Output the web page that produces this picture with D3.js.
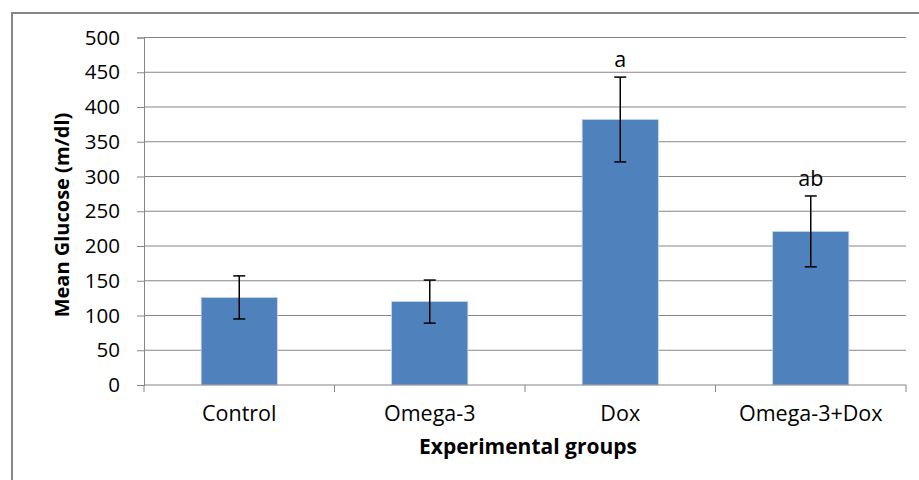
<!DOCTYPE html>
<html>
<head>
<meta charset="utf-8">
<script src="https://cdn.jsdelivr.net/npm/d3@7"></script>
<style>
  body { margin: 0; background: #fff; }
  svg text { font-family: "Open Sans", sans-serif; fill: #000; }
</style>
</head>
<body>
<svg width="919" height="480"></svg>
<script>
// chart data
var groups = ["Control", "Omega-3", "Dox", "Omega-3+Dox"];
var means = [126, 120, 382, 221];
var errs = [31, 31, 61, 51];
var marks = ["", "", "a", "ab"];
var yTicks = [0, 50, 100, 150, 200, 250, 300, 350, 400, 450, 500];

(function () {

var svg = d3.select("svg");

// outer frame
svg.append("rect")
  .attr("x", 12).attr("y", 13)
  .attr("width", 930).attr("height", 500)
  .style("fill", "none").style("stroke", "#868686").style("stroke-width", 2);

var left = 144, right = 906, plotTop = 37.5, bottom = 385;

var x = d3.scaleBand().domain(groups).range([left, right]).padding(0);
var y = d3.scaleLinear().domain([0, 500]).range([bottom, plotTop]);

// gridlines
svg.append("g").selectAll("line")
  .data(yTicks.filter(function(d) { return d > 0; }))
  .enter().append("line")
  .attr("x1", left).attr("x2", right)
  .attr("y1", function(d) { return y(d); })
  .attr("y2", function(d) { return y(d); })
  .style("stroke", "#868686").style("stroke-width", 1);

// y axis
var yAxis = d3.axisLeft(y).tickValues(yTicks).tickSize(7).tickPadding(17);
var gy = svg.append("g").attr("transform", "translate(" + left + ",0)").call(yAxis);
gy.select(".domain").attr("stroke", "#868686");
gy.selectAll(".tick line").attr("stroke", "#868686");
gy.selectAll(".tick text").style("font-size", "20.5px").attr("fill", "#000")
  .style("font-family", "'Open Sans', sans-serif");

// bars
var barW = x.bandwidth() * 0.4;
svg.append("g").selectAll("rect")
  .data(groups)
  .enter().append("rect")
  .attr("x", function(d) { return x(d) + (x.bandwidth() - barW) / 2; })
  .attr("y", function(d, i) { return y(means[i]); })
  .attr("width", barW)
  .attr("height", function(d, i) { return bottom - y(means[i]); })
  .style("fill", "#4F81BD").style("stroke", "#c5d5ea").style("stroke-width", 0.8);

// x axis: baseline and category boundary ticks
svg.append("line")
  .attr("x1", left).attr("x2", right).attr("y1", bottom).attr("y2", bottom)
  .style("stroke", "#868686").style("stroke-width", 1.2);
var bounds = groups.map(function(d) { return x(d); }).concat([right]);
svg.append("g").selectAll("line")
  .data(bounds)
  .enter().append("line")
  .attr("x1", function(d) { return d; }).attr("x2", function(d) { return d; })
  .attr("y1", bottom).attr("y2", bottom + 7)
  .style("stroke", "#868686");

svg.append("g").selectAll("text")
  .data(groups)
  .enter().append("text")
  .attr("x", function(d) { return x(d) + x.bandwidth() / 2; })
  .attr("y", 421)
  .attr("text-anchor", "middle")
  .style("font-size", "21.5px")
  .text(function(d) { return d; });

// error bars
var eb = svg.append("g").style("stroke", "#000").style("stroke-width", 1.5);
groups.forEach(function(g, i) {
  var cx = x(g) + x.bandwidth() / 2;
  var hi = y(means[i] + errs[i]), lo = y(means[i] - errs[i]);
  eb.append("line").attr("x1", cx).attr("x2", cx).attr("y1", hi).attr("y2", lo);
  eb.append("line").attr("x1", cx - 6).attr("x2", cx + 6).attr("y1", hi).attr("y2", hi);
  eb.append("line").attr("x1", cx - 6).attr("x2", cx + 6).attr("y1", lo).attr("y2", lo);
});

// significance letters
svg.append("g").selectAll("text")
  .data(groups)
  .enter().append("text")
  .attr("x", function(d) { return x(d) + x.bandwidth() / 2; })
  .attr("y", function(d, i) { return y(means[i] + errs[i]) - 10; })
  .attr("text-anchor", "middle")
  .style("font-size", "21.5px")
  .text(function(d, i) { return marks[i]; });

// axis titles
svg.append("text")
  .attr("transform", "translate(69,215) rotate(-90)")
  .attr("text-anchor", "middle")
  .style("font-size", "20px").style("font-weight", "bold")
  .text("Mean Glucose (m/dl)");

svg.append("text")
  .attr("x", 528).attr("y", 454)
  .attr("text-anchor", "middle")
  .style("font-size", "21px").style("font-weight", "bold")
  .text("Experimental groups");

})();
</script>
</body>
</html>
